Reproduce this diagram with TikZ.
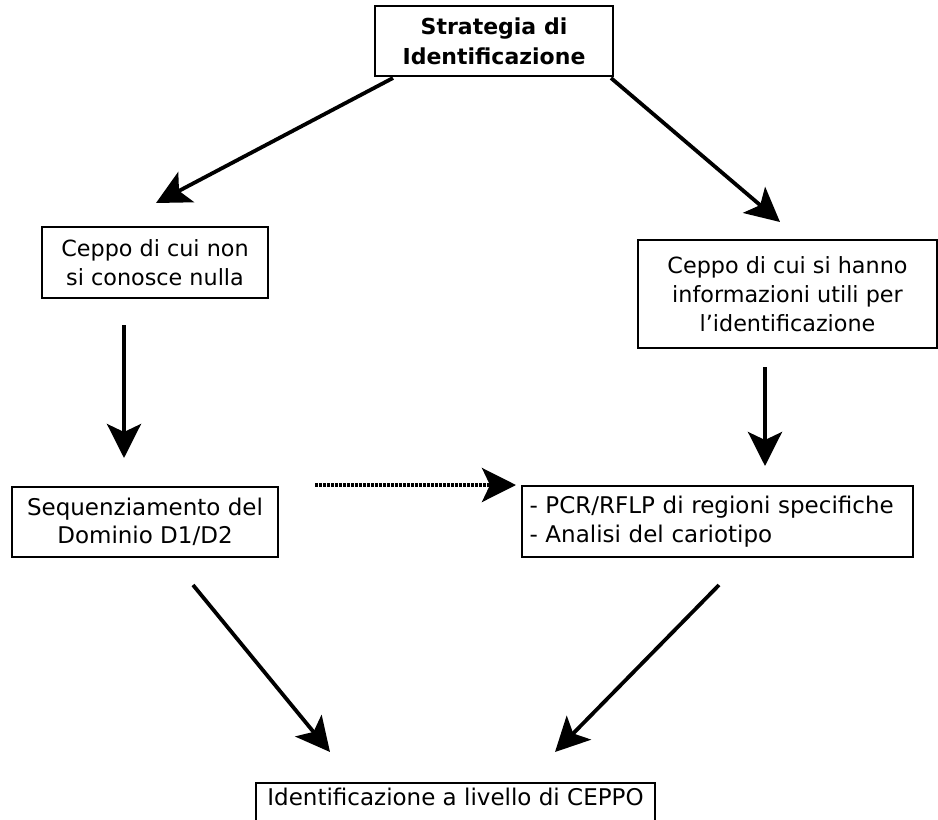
\documentclass[tikz,border=0pt]{standalone}
\usepackage{fontspec}
\setmainfont{DejaVu Sans}
\usetikzlibrary{arrows,arrows.meta}

\begin{document}
\begin{tikzpicture}[x=1pt,y=-1pt,
box/.style={draw,line width=2.2pt,font=\fontsize{23}{28.5}\selectfont,align=center,inner sep=0pt},
arrow/.style={-{Stealth[length=34pt,width=34pt,inset=8pt]},line width=3.8pt},
dotarrow/.style={arrow,dash pattern=on 2.5pt off 1.5pt} ]

\useasboundingbox (0,0) rectangle (938,820);

\node[box,font=\fontsize{22}{30}\selectfont\bfseries,minimum width=238pt,minimum height=70pt](strat) at (494,41) {Strategia di\\Identificazione};

\node[box,font=\fontsize{22.3}{28.5}\selectfont,minimum width=226pt,minimum height=71pt](ignoto) at (155,262.5) {Ceppo di cui non\\si conosce nulla};

\node[box,font=\fontsize{22.3}{29}\selectfont,minimum width=299pt,minimum height=108pt](noto) at (787.5,294) {Ceppo di cui si hanno\\informazioni utili per\\l'identificazione};

\node[box,minimum width=266pt,minimum height=70pt](seq) at (145,522) {Sequenziamento del\\Dominio D1/D2};

\node[box,align=left,minimum width=391pt,minimum height=71pt,text width=376pt](pcr) at (717.5,521.5) {- PCR/RFLP di regioni specifiche\\- Analisi del cariotipo};

\node[box,minimum width=399pt,text height=22pt,text depth=25pt,anchor=north](ceppo) at (455.5,782) {Identificazione a livello di CEPPO};

% punti di partenza e arrivo delle frecce
\coordinate (s1) at (393,78);
\coordinate (t1) at (156,203);
\coordinate (s2) at (611,78);
\coordinate (t2) at (780,222);
\coordinate (s3) at (124,325);
\coordinate (t3) at (124,458);
\coordinate (s4) at (765,367);
\coordinate (t4) at (765,466);
\coordinate (s5) at (315,485);
\coordinate (t5) at (516,485);
\coordinate (s6) at (193,585);
\coordinate (t6) at (330,752);
\coordinate (s7) at (719,585);
\coordinate (t7) at (555,752);

\draw[arrow] (s1) -- (t1);
\draw[arrow] (s2) -- (t2);
\draw[arrow] (s3) -- (t3);
\draw[arrow] (s4) -- (t4);
\draw[dotarrow] (s5) -- (t5);
\draw[arrow] (s6) -- (t6);
\draw[arrow] (s7) -- (t7);
\end{tikzpicture}
\end{document}
